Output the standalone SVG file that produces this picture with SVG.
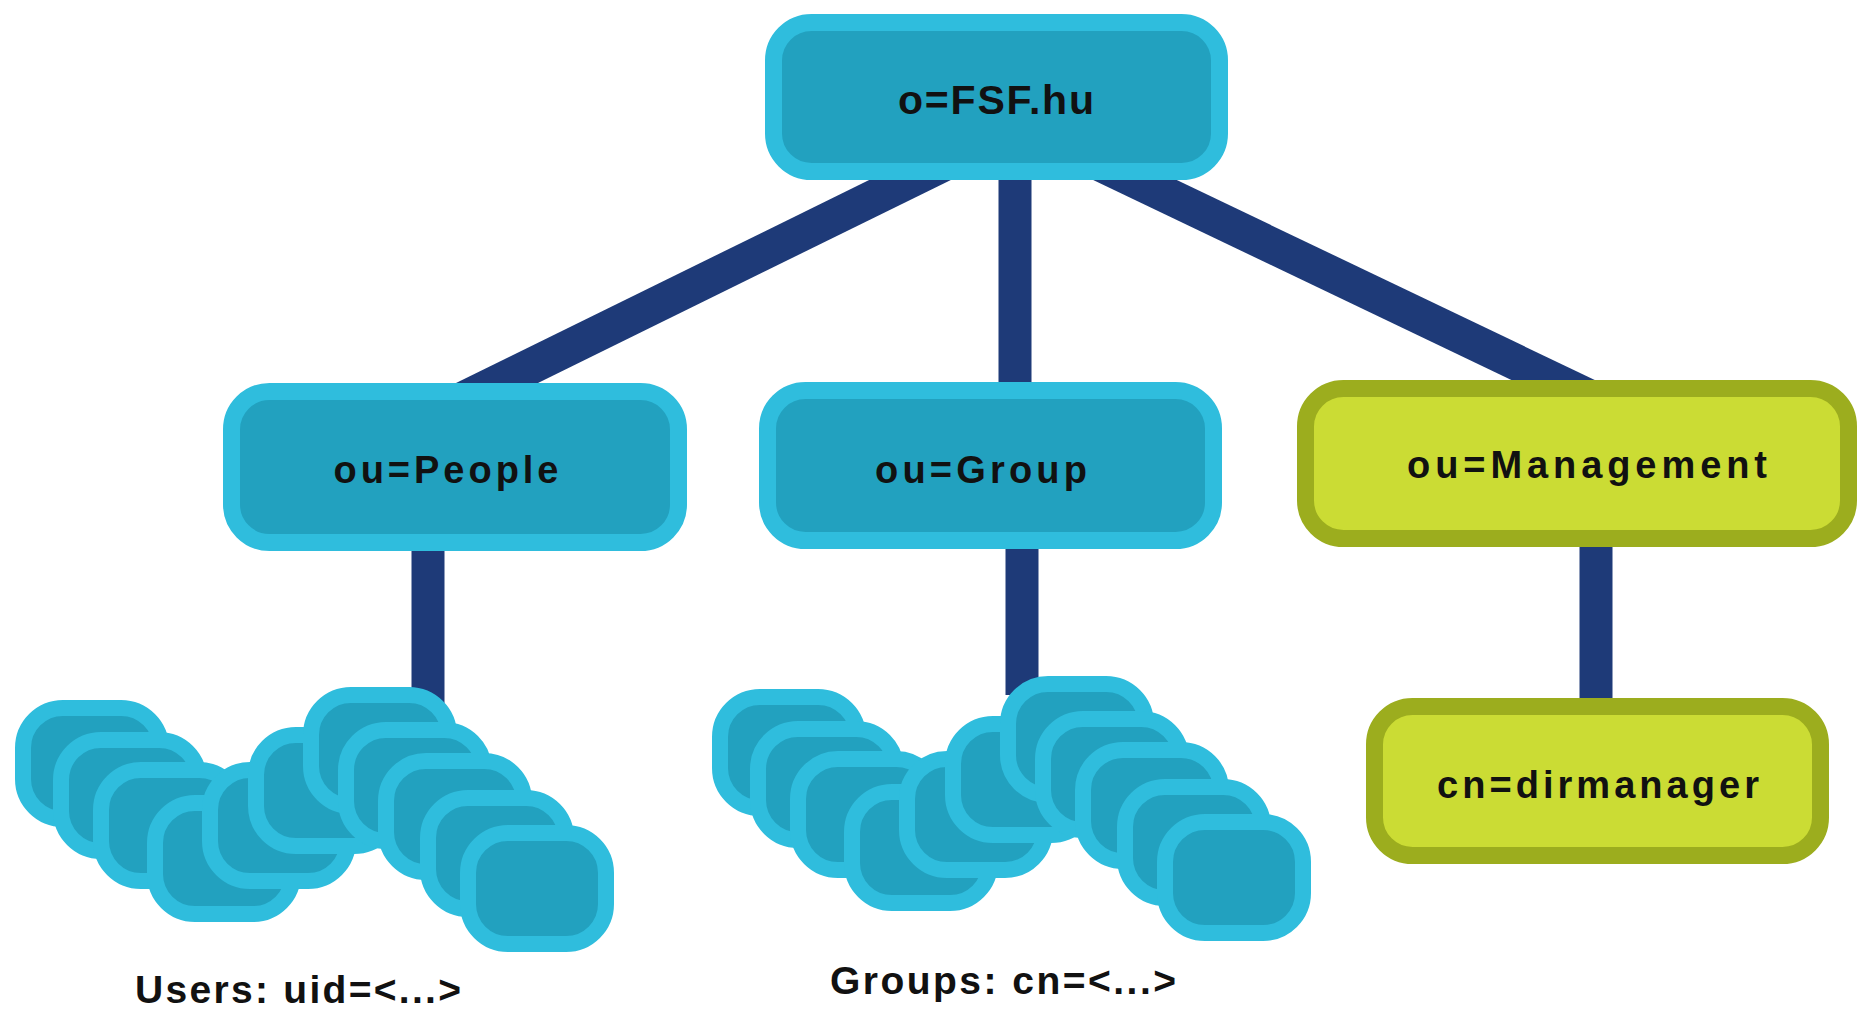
<svg xmlns="http://www.w3.org/2000/svg" xmlns:xlink="http://www.w3.org/1999/xlink" width="1860" height="1010" viewBox="0 0 1860 1010">
<style>
.blue{fill:#22A1BF;stroke:#2FBDDD;stroke-width:17}
.green{fill:#CBDC34;stroke:#9CAD1E;stroke-width:17}
.tile{fill:#22A1BF;stroke:#2FBDDD;stroke-width:16}
.conn{stroke:#1E3A78;stroke-width:33;fill:none;stroke-linecap:butt}
.diag{stroke-width:36}
.lbl{font-family:"Liberation Sans",Arial,Helvetica,sans-serif;font-weight:bold;fill:#111;text-anchor:middle}
</style>
<defs>
<symbol id="tileStack" overflow="visible">
<rect class="tile" x="23" y="708" width="138" height="111" rx="40"/>
<rect class="tile" x="61" y="740" width="138" height="111" rx="40"/>
<rect class="tile" x="101" y="770" width="138" height="111" rx="40"/>
<rect class="tile" x="155" y="803" width="138" height="111" rx="40"/>
<rect class="tile" x="210" y="770" width="138" height="111" rx="40"/>
<rect class="tile" x="256" y="735" width="138" height="111" rx="40"/>
<rect class="tile" x="311" y="695" width="138" height="111" rx="40"/>
<rect class="tile" x="346" y="730" width="138" height="111" rx="40"/>
<rect class="tile" x="386" y="761" width="138" height="111" rx="40"/>
<rect class="tile" x="428" y="798" width="138" height="111" rx="40"/>
<rect class="tile" x="468" y="833" width="138" height="111" rx="40"/>
</symbol>
</defs>
<rect x="0" y="0" width="1860" height="1010" fill="#ffffff"/>
<g id="connectors">
<line class="conn diag" x1="975" y1="148" x2="438" y2="412"/>
<line class="conn" x1="1015" y1="160" x2="1015" y2="400"/>
<line class="conn diag" x1="1068" y1="148" x2="1620" y2="412"/>
<line class="conn" x1="428" y1="540" x2="428" y2="705"/>
<line class="conn" x1="1022" y1="540" x2="1022" y2="695"/>
<line class="conn" x1="1596" y1="535" x2="1596" y2="715"/>
</g>
<g id="node-root">
<rect class="blue" x="773.5" y="22.5" width="446" height="149" rx="38"/>
<text class="lbl" x="996" y="114" font-size="41" textLength="196" lengthAdjust="spacing">o=FSF.hu</text>
</g>
<g id="node-people">
<rect class="blue" x="231.5" y="391.5" width="447" height="151" rx="38"/>
<text class="lbl" x="446" y="483" font-size="38" textLength="225" lengthAdjust="spacing">ou=People</text>
</g>
<g id="node-group">
<rect class="blue" x="767.5" y="390.5" width="446" height="150" rx="38"/>
<text class="lbl" x="981" y="483" font-size="38" textLength="212" lengthAdjust="spacing">ou=Group</text>
</g>
<g id="node-management">
<rect class="green" x="1305.5" y="388.5" width="543" height="150" rx="38"/>
<text class="lbl" x="1587" y="478" font-size="38" textLength="360" lengthAdjust="spacing">ou=Management</text>
</g>
<g id="node-dirmanager">
<rect class="green" x="1374.5" y="706.5" width="446" height="149" rx="38"/>
<text class="lbl" x="1598" y="798" font-size="38" textLength="322" lengthAdjust="spacing">cn=dirmanager</text>
</g>
<g id="node-users">
<use xlink:href="#tileStack" href="#tileStack"/>
<text class="lbl" x="298" y="1003" font-size="39" textLength="326" lengthAdjust="spacing">Users: uid=&lt;...&gt;</text>
</g>
<g id="node-groups">
<use xlink:href="#tileStack" href="#tileStack" transform="translate(697,-11)"/>
<text class="lbl" x="1003" y="994" font-size="39" textLength="346" lengthAdjust="spacing">Groups: cn=&lt;...&gt;</text>
</g>
</svg>
